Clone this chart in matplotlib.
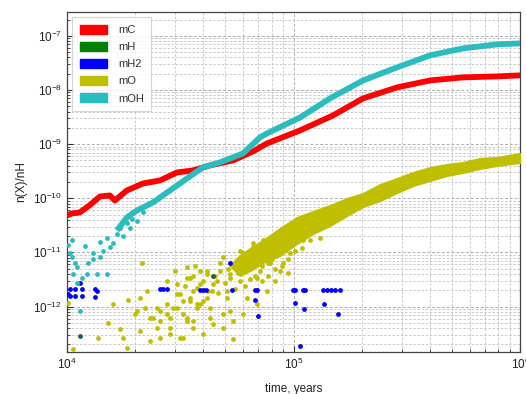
import matplotlib
matplotlib.use('Agg')
import matplotlib.pyplot as plt
import numpy as np
from matplotlib.patches import Patch

plt.rcParams['font.family'] = ['Liberation Sans', 'DejaVu Sans']
plt.rcParams['mathtext.fontset'] = 'custom'
plt.rcParams['mathtext.rm'] = 'Liberation Sans'

#==============================================================================
# Data (log10 of time in years, log10 of n(X)/nH)
#==============================================================================

mC_logt = [4.00, 4.022, 4.057, 4.10, 4.146, 4.19, 4.212, 4.265, 4.336, 4.411,
           4.486, 4.556, 4.631, 4.733, 4.821, 4.883, 5.029, 5.174, 5.307,
           5.457, 5.603, 5.748, 5.898, 6.0]
mC_logn = [-10.318, -10.281, -10.263, -10.133, -9.967, -9.948, -10.041,
           -9.856, -9.727, -9.671, -9.523, -9.486, -9.394, -9.301, -9.135,
           -8.987, -8.747, -8.47, -8.155, -7.952, -7.823, -7.767, -7.749,
           -7.73]

mOH_logt = [4.221, 4.265, 4.309, 4.38, 4.455, 4.53, 4.60, 4.675, 4.777,
            4.852, 4.883, 5.029, 5.161, 5.307, 5.457, 5.603, 5.748, 5.898,
            6.0]
mOH_logn = [-10.595, -10.355, -10.226, -10.078, -9.856, -9.634, -9.431,
            -9.338, -9.172, -8.876, -8.802, -8.508, -8.155, -7.823, -7.582,
            -7.36, -7.231, -7.157, -7.139]

mOH_sc_logt = [4.004, 4.013, 4.022, 4.022, 4.035, 4.044, 4.026, 4.044, 4.066,
               4.057, 4.079, 4.088, 4.093, 4.115, 4.115, 4.132, 4.146, 4.146,
               4.159, 4.177, 4.177, 4.19, 4.203, 4.221, 4.234, 4.247, 4.265,
               4.278, 4.287, 4.309, 4.336, 4.353]
mOH_sc_logn = [-10.872, -11.02, -10.78, -11.094, -11.205, -11.279, -11.39,
               -11.557, -11.464, -12.074, -10.891, -11.39, -11.187, -11.002,
               -11.113, -11.39, -10.817, -11.094, -10.965, -10.743, -11.39,
               -10.909, -10.835, -10.651, -10.558, -10.688, -10.466, -10.558,
               -10.374, -10.411, -10.263, -10.133]

mH_logt = [4.057, 4.645]
mH_logn = [-12.536, -11.427]

mH2_logt = [4.013, 4.035, 4.066, 4.124, 4.132, 4.013, 4.035, 4.066, 4.124,
            4.057, 4.004, 4.411, 4.424, 4.442, 4.587, 4.60, 4.614, 4.72,
            4.728, 4.83, 4.839, 4.843, 4.83, 4.998, 5.007, 5.042, 5.051,
            5.007, 5.046, 5.029, 5.13, 5.148, 5.166, 5.183, 5.205, 5.135,
            5.196]
mH2_logn = [-11.667, -11.667, -11.667, -11.667, -11.704, -11.797, -11.797,
            -11.797, -11.815, -11.557, -11.76, -11.667, -11.667, -11.667,
            -11.686, -11.686, -11.686, -11.205, -11.686, -11.871, -11.686,
            -12.167, -11.686, -11.686, -11.686, -11.686, -11.686, -11.926,
            -12.037, -12.721, -11.686, -11.686, -11.686, -11.686, -11.686,
            -11.945, -12.13]

mO_logt = [4.004, 4.026, 4.137, 4.181, 4.203, 4.234, 4.247, 4.265, 4.269,
           4.30, 4.309, 4.322, 4.322, 4.331, 4.344, 4.353, 4.366, 4.366,
           4.38, 4.397, 4.397, 4.411, 4.411, 4.411, 4.442, 4.442, 4.442,
           4.455, 4.455, 4.455, 4.468, 4.486, 4.486, 4.486, 4.499, 4.499,
           4.512, 4.512, 4.512, 4.53, 4.53, 4.53, 4.53, 4.543, 4.543, 4.543,
           4.556, 4.556, 4.556, 4.556, 4.574, 4.574, 4.574, 4.587, 4.587,
           4.587, 4.60, 4.60, 4.618, 4.618, 4.618, 4.631, 4.631, 4.64, 4.645,
           4.645, 4.662, 4.675, 4.675, 4.689, 4.689, 4.689, 4.706, 4.706,
           4.72, 4.72, 4.72, 4.733, 4.733, 4.751, 4.764, 4.764, 4.777, 4.777,
           4.795, 4.795, 4.808, 4.821, 4.821, 4.839, 4.839, 4.852, 4.852,
           4.865, 4.865, 4.883, 4.883, 4.896, 4.91, 4.927, 4.94, 4.971,
           4.985, 4.998, 5.029, 5.042,
           4.764, 4.786, 4.808, 4.83, 4.843, 4.861, 4.874, 4.887, 4.905,
           4.918, 4.932, 4.954, 4.962, 4.976, 4.993, 5.007, 5.02, 5.038,
           5.051, 5.073, 5.095, 5.117,
           4.60, 4.623, 4.653, 4.667, 4.698, 4.711, 4.742, 4.755, 4.773,
           4.786, 4.808, 4.83, 4.861, 4.887, 4.918, 4.949, 4.976, 4.565,
           4.521, 4.477]
mO_logn = [-11.926, -12.776, -12.573, -12.296, -11.945, -12.407, -12.573,
           -12.758, -11.871, -12.13, -12.074, -11.834, -12.444, -11.205,
           -12.019, -11.704, -12.203, -12.629, -12.203, -12.019, -12.388,
           -12.259, -12.573, -12.074, -12.13, -11.945, -11.52, -12.388,
           -12.203, -12.499, -12.019, -11.76, -11.575, -12.019, -12.573,
           -11.76, -12.13, -11.889, -12.573, -11.464, -11.279, -12.259,
           -12.203, -11.834, -11.464, -11.889, -12.259, -11.704, -11.427,
           -12.388, -11.945, -11.649, -12.019, -11.575, -11.335, -11.945,
           -12.499, -11.889, -11.335, -11.39, -11.834, -12.019, -12.203,
           -11.704, -11.575, -12.314, -11.52, -11.205, -11.335, -12.13,
           -11.094, -12.388, -11.834, -11.704, -11.39, -11.464, -12.074,
           -12.259, -12.592, -11.15, -11.52, -10.965, -11.02, -12.13, -11.834,
           -11.205, -11.279, -10.909, -10.835, -11.464, -11.945, -11.15,
           -11.335, -10.78, -11.02, -11.704, -10.78, -11.205, -10.909,
           -10.725, -11.335, -10.651, -11.02, -10.54, -10.466, -10.78,
           -11.187, -11.335, -11.113, -11.427, -10.965, -11.243, -11.057,
           -11.427, -11.113, -11.298, -10.965, -11.187, -10.872, -11.113,
           -10.78, -10.965, -10.688, -10.928, -10.632, -10.78, -10.503,
           -10.743,
           -11.52, -11.704, -11.427, -11.741, -11.557, -11.298, -11.667,
           -11.372, -11.243, -11.612, -11.483, -11.187, -11.52, -11.187,
           -11.52, -11.243, -11.372, -11.243, -11.612, -11.335]

# dense band of mO at late times: upper and lower edges
band_logt = [4.72, 4.764, 4.808, 4.865, 4.94, 5.015, 5.086, 5.161, 5.236,
             5.307, 5.382, 5.457, 5.528, 5.603, 5.678, 5.748, 5.823, 5.898,
             6.0]
band_top = [-11.243, -11.057, -10.928, -10.78, -10.558, -10.355, -10.244,
            -10.133, -10.004, -9.911, -9.745, -9.634, -9.523, -9.431, -9.375,
            -9.338, -9.264, -9.246, -9.172]
band_bot = [-11.243, -11.427, -11.335, -11.187, -11.057, -10.835, -10.651,
            -10.503, -10.318, -10.152, -10.041, -9.893, -9.763, -9.671,
            -9.578, -9.523, -9.449, -9.394, -9.338]

labels = ['mC', 'mH', 'mH2', 'mO', 'mOH']
colors = ['#ff0000', '#008000', '#0000ff', '#bfbf00', '#2bbdbd']


def p10(a):
    return 10.0 ** np.asarray(a)


#==============================================================================
# Figure
#==============================================================================

fig = plt.figure(figsize=(5.26, 3.94), dpi=100)
ax = fig.add_axes([0.127, 0.107, 0.862, 0.863])

ms = 12
ax.fill_between(p10(band_logt), p10(band_bot), p10(band_top),
                color=colors[3], lw=1.5, zorder=3)
ax.scatter(p10(mO_logt), p10(mO_logn), s=ms, color=colors[3], lw=0,
           zorder=3)
ax.scatter(p10(mH2_logt), p10(mH2_logn), s=ms, color=colors[2], lw=0,
           zorder=4)
ax.scatter(p10(mH_logt), p10(mH_logn), s=ms, color='#1f5f3f', lw=0,
           zorder=4)
ax.scatter(p10(mOH_sc_logt), p10(mOH_sc_logn), s=ms, color=colors[4], lw=0,
           zorder=4)
ax.plot(p10(mC_logt), p10(mC_logn), color=colors[0], lw=4.2,
        solid_capstyle='butt', zorder=5)
ax.plot(p10(mOH_logt), p10(mOH_logn), color=colors[4], lw=4.2,
        solid_capstyle='butt', zorder=6)

ax.set_xscale('log')
ax.set_yscale('log')
ax.set_xlim(1e4, 1e6)
ax.set_ylim(10 ** -12.837, 10 ** -6.556)
ax.set_yticks([1e-12, 1e-11, 1e-10, 1e-9, 1e-8, 1e-7])
ax.set_xticks([1e4, 1e5, 1e6])

ax.grid(True, which='major', color='#b0b0b0', ls=(0, (3, 2)), lw=0.7)
ax.grid(True, which='minor', color='#c4c4c4', ls=(0, (3, 2)), lw=0.6)
ax.set_axisbelow(True)

ax.tick_params(which='both', direction='in', labelsize=8.5,
               colors='#333333', labelcolor='#222222')
ax.tick_params(which='major', length=4)
ax.tick_params(which='minor', length=2)
for sp in ax.spines.values():
    sp.set_color('#444444')
    sp.set_linewidth(0.9)

ax.set_xlabel('time, years', fontsize=8.5, color='#222222', labelpad=8)
ax.set_ylabel('n(X)/nH', fontsize=8.5, color='#222222', labelpad=4)

handles = [Patch(facecolor=c, edgecolor=c) for c in colors]
leg = ax.legend(handles, labels, loc='upper left',
                bbox_to_anchor=(0.012, 0.985), borderaxespad=0,
                fontsize=8, frameon=True, fancybox=False,
                handlelength=2.4, handleheight=0.9, labelspacing=0.6,
                handletextpad=1.0, borderpad=0.7)
leg.get_frame().set_edgecolor('#cccccc')
leg.get_frame().set_linewidth(0.8)
for t in leg.get_texts():
    t.set_color('#333333')

fig.savefig('out.png', dpi=100)
